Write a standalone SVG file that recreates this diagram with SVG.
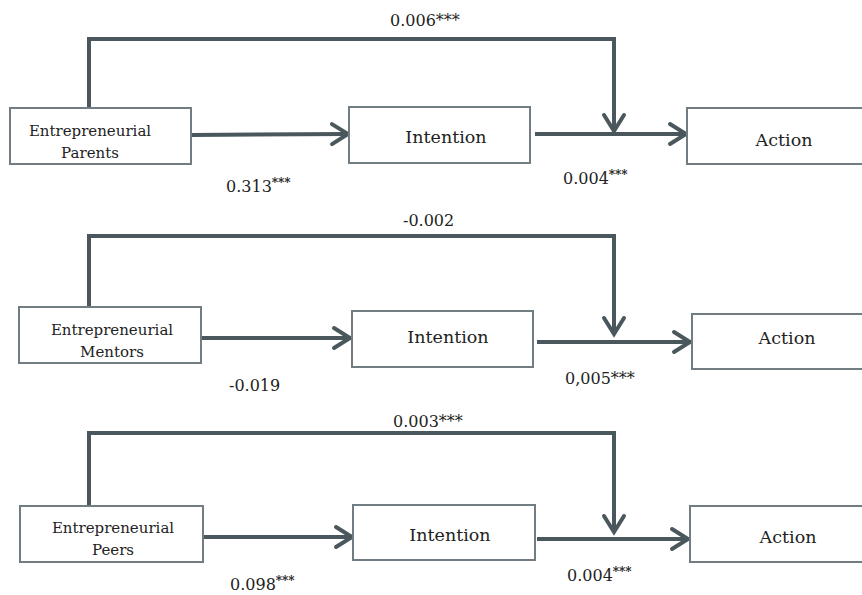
<svg xmlns="http://www.w3.org/2000/svg" width="862" height="595" viewBox="0 0 862 595">
<style>
.box{fill:#fff;stroke:#717d82;stroke-width:2}
.con{fill:none;stroke:#4a575d;stroke-width:4;stroke-linejoin:miter}
text{font-family:'DejaVu Serif',serif;fill:#222}
.n1{font-size:15px}
.n2{font-size:17.5px}
.lab{font-size:16px}
.sup{font-size:12px;font-weight:bold;fill:#222}
</style>
<defs>
<marker id="arr" markerUnits="userSpaceOnUse" viewBox="-20 -14 24 28" refX="0" refY="0" markerWidth="24" markerHeight="28" orient="auto">
<path d="M -16 -10 L 0 0 L -16 10" fill="none" stroke="#4a575d" stroke-width="4" stroke-linecap="round" stroke-linejoin="miter"/>
</marker>
</defs>
<rect width="862" height="595" fill="#fff"/>

<g id="connectors">
<path class="con" d="M 89 108 V 39 H 614 V 131" marker-end="url(#arr)"/>
<path class="con" d="M 192 135 L 348 134" marker-end="url(#arr)"/>
<path class="con" d="M 535 134 H 686" marker-end="url(#arr)"/>
<path class="con" d="M 89 307 V 236 H 614 V 334" marker-end="url(#arr)"/>
<path class="con" d="M 202 338 H 350" marker-end="url(#arr)"/>
<path class="con" d="M 537 342 H 690" marker-end="url(#arr)"/>
<path class="con" d="M 89 506 V 433 H 614 V 532" marker-end="url(#arr)"/>
<path class="con" d="M 204 537 H 352" marker-end="url(#arr)"/>
<path class="con" d="M 537 539 H 688" marker-end="url(#arr)"/>
</g>

<g id="parents">
<rect class="box" x="10" y="108" width="181" height="56"/>
<text class="n1" x="90" y="136" text-anchor="middle">Entrepreneurial</text>
<text class="n1" x="90" y="158" text-anchor="middle">Parents</text>
</g>
<g id="intention1">
<rect class="box" x="349" y="107" width="181" height="56"/>
<text class="n2" x="446" y="143" text-anchor="middle">Intention</text>
</g>
<g id="action1">
<rect class="box" x="687" y="108" width="190" height="56"/>
<text class="n2" x="784" y="146" text-anchor="middle">Action</text>
</g>

<g id="mentors">
<rect class="box" x="19" y="307" width="182" height="56"/>
<text class="n1" x="112" y="335" text-anchor="middle">Entrepreneurial</text>
<text class="n1" x="112" y="357" text-anchor="middle">Mentors</text>
</g>
<g id="intention2">
<rect class="box" x="352" y="311" width="181" height="56"/>
<text class="n2" x="448" y="343" text-anchor="middle">Intention</text>
</g>
<g id="action2">
<rect class="box" x="692" y="314" width="190" height="55"/>
<text class="n2" x="787" y="344" text-anchor="middle">Action</text>
</g>

<g id="peers">
<rect class="box" x="20" y="506" width="183" height="56"/>
<text class="n1" x="113" y="533" text-anchor="middle">Entrepreneurial</text>
<text class="n1" x="113" y="555" text-anchor="middle">Peers</text>
</g>
<g id="intention3">
<rect class="box" x="353" y="505" width="182" height="55"/>
<text class="n2" x="450" y="541" text-anchor="middle">Intention</text>
</g>
<g id="action3">
<rect class="box" x="690" y="506" width="190" height="56"/>
<text class="n2" x="788" y="543" text-anchor="middle">Action</text>
</g>

<g id="labels">
<text class="lab" x="390" y="26">0.006***</text>
<text class="lab" x="226" y="192">0.313<tspan class="sup" dy="-5">***</tspan></text>
<text class="lab" x="563" y="184">0.004<tspan class="sup" dy="-5">***</tspan></text>
<text class="lab" x="403" y="226">-0.002</text>
<text class="lab" x="229" y="391">-0.019</text>
<text class="lab" x="565" y="384">0,005***</text>
<text class="lab" x="393" y="427">0.003***</text>
<text class="lab" x="230" y="590">0.098<tspan class="sup" dy="-5">***</tspan></text>
<text class="lab" x="567" y="581">0.004<tspan class="sup" dy="-5">***</tspan></text>
</g>
</svg>
